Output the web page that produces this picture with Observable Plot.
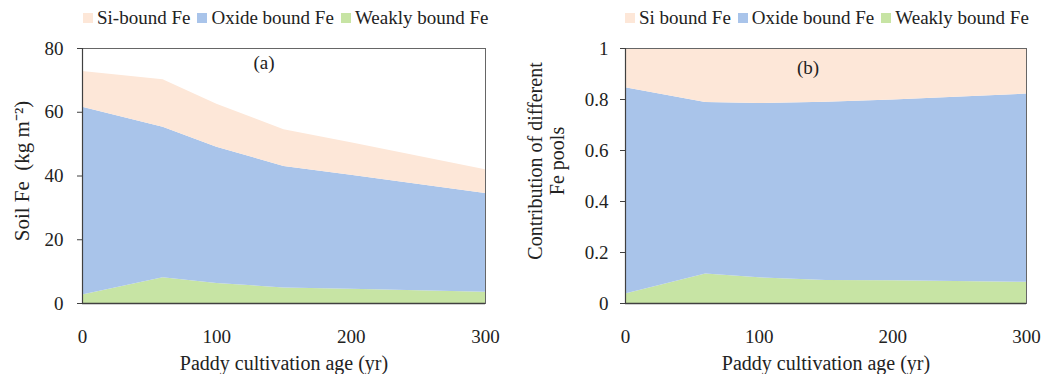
<!DOCTYPE html>
<html>
<head>
<meta charset="utf-8">
<script src="https://cdn.jsdelivr.net/npm/d3@7"></script>
<script src="https://cdn.jsdelivr.net/npm/@observablehq/plot@0.6"></script>
<style>
  body { margin: 0; background: #fff; font-family: "Liberation Serif", "Times New Roman", serif; }
  #wrap { position: relative; width: 1045px; height: 374px; overflow: hidden; }
  .legend { position: absolute; top: 7px; display: flex; align-items: center; font-size: 19px; color: #222; white-space: nowrap; }
  .legend .sw { width: 10px; height: 10px; margin-right: 4px; }
  .legend .item { display: flex; align-items: center; margin-right: 7px; }
  .panel { position: absolute; top: 36px; }
</style>
</head>
<body>
<div id="wrap">
  <div class="legend" id="legA" style="left:83px"></div>
  <div class="legend" id="legB" style="left:625px"></div>
  <div class="panel" id="pA" style="left:0px"></div>
  <div class="panel" id="pB" style="left:522px"></div>
</div>
<script>
// ---- data ----
const ages = [0, 60, 100, 150, 200, 300];
const weaklyFe = [2.7, 8.1, 6.3, 4.9, 4.5, 3.5];
const oxideFe = [58.9, 47.2, 42.7, 38.1, 35.7, 31.0];
const siFe = [11.2, 14.9, 13.5, 11.5, 10.2, 7.5];
const pools = ["Weakly bound Fe", "Oxide bound Fe", "Si-bound Fe"];
const poolColors = ["#c7e4a4", "#a9c4ea", "#fde7d8"];
const legendA = ["Si-bound Fe", "Oxide bound Fe", "Weakly bound Fe"];
const legendB = ["Si bound Fe", "Oxide bound Fe", "Weakly bound Fe"];
const xTicks = [0, 100, 200, 300];
const yTicksA = [0, 20, 40, 60, 80];
const yTicksB = [0, 0.2, 0.4, 0.6, 0.8, 1];

const series = [weaklyFe, oxideFe, siFe];
const table = [];
pools.forEach((p, i) => ages.forEach((a, j) => table.push({pool: p, age: a, value: series[i][j]})));

// ---- legends ----
function legend(id, names) {
  const el = document.getElementById(id);
  const legendColors = [poolColors[2], poolColors[1], poolColors[0]];
  names.forEach((n, i) => {
    const it = document.createElement("div");
    it.className = "item";
    const sw = document.createElement("div");
    sw.className = "sw";
    sw.style.background = legendColors[i];
    const tx = document.createElement("span");
    tx.textContent = n;
    it.appendChild(sw); it.appendChild(tx);
    el.appendChild(it);
  });
}
legend("legA", legendA);
legend("legB", legendB);

const common = {
  height: 338,
  marginTop: 12,
  marginBottom: 71,
  style: {fontFamily: "'Liberation Serif', 'Times New Roman', serif", fontSize: "18px", color: "#222", background: "transparent"},
  x: {domain: [0, 300]},
  color: {domain: pools, range: poolColors}
};

const pA = Plot.plot({
  ...common,
  width: 522,
  marginLeft: 82,
  marginRight: 37,
  y: {domain: [0, 80]},
  marks: [
    Plot.areaY(table, Plot.stackY({x: "age", y: "value", z: "pool", fill: "pool", order: pools})),
    Plot.frame({stroke: "#666"}),
    Plot.ruleX([0], {stroke: "#404040", strokeWidth: 1.2}),
    Plot.ruleY([0], {stroke: "#404040", strokeWidth: 1.5}),
    Plot.axisY({ticks: yTicksA, tickSize: 5, tickPadding: 14, label: null, stroke: "#404040", fontSize: 19}),
    Plot.axisX({ticks: xTicks, tickSize: 0, tickPadding: 26, label: null, fontSize: 19}),
    Plot.text(["Paddy cultivation age (yr)"], {frameAnchor: "bottom", dy: 60, lineAnchor: "middle", fontSize: 20}),
    Plot.text(["Soil Fe  (kg m\u207B\u00B2)"], {frameAnchor: "left", dx: -60, dy: -5, rotate: -90, textAnchor: "middle", fontSize: 21}),
    Plot.text(["(a)"], {frameAnchor: "top", dx: -20, dy: 14, lineAnchor: "middle", fontSize: 19})
  ]
});
document.getElementById("pA").appendChild(pA);

const pB = Plot.plot({
  ...common,
  width: 523,
  marginLeft: 103,
  marginRight: 19,
  y: {domain: [0, 1]},
  marks: [
    Plot.areaY(table, Plot.stackY({x: "age", y: "value", z: "pool", fill: "pool", order: pools, offset: "normalize"})),
    Plot.frame({stroke: "#666"}),
    Plot.ruleX([0], {stroke: "#404040", strokeWidth: 1.2}),
    Plot.ruleY([0], {stroke: "#404040", strokeWidth: 1.5}),
    Plot.axisY({ticks: yTicksB, tickSize: 5, tickPadding: 12, label: null, tickFormat: d => String(d), stroke: "#404040", fontSize: 19}),
    Plot.axisX({ticks: xTicks, tickSize: 0, tickPadding: 26, label: null, fontSize: 19}),
    Plot.text(["Paddy cultivation age (yr)"], {frameAnchor: "bottom", dy: 60, lineAnchor: "middle", fontSize: 20}),
    Plot.text(["Contribution of different\nFe pools"], {frameAnchor: "left", dx: -80, dy: -15, rotate: -90, textAnchor: "middle", fontSize: 20, lineHeight: 1.1}),
    Plot.text(["(b)"], {frameAnchor: "top", dx: -18, dy: 19, lineAnchor: "middle", fontSize: 19})
  ]
});
document.getElementById("pB").appendChild(pB);
</script>
</body>
</html>
